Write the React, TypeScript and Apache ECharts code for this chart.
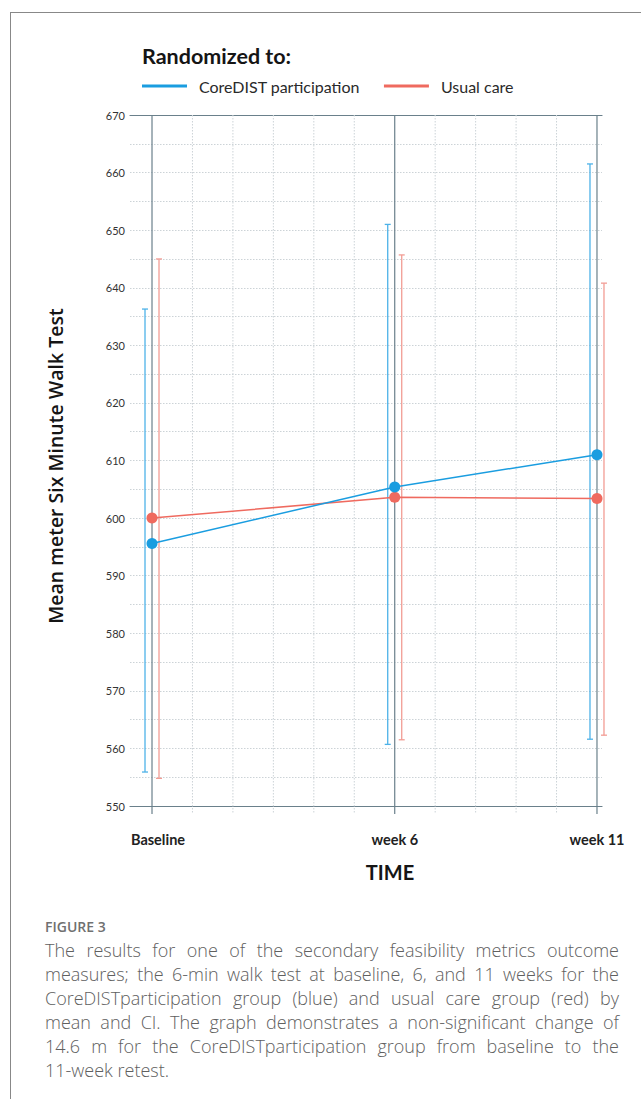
import React, { useEffect, useRef } from "react";
import * as echarts from "echarts";

// ---- data ----
const tickWeeks = [0, 6, 11];
const tickLabels = ["Baseline", "week 6", "week 11"];
const minorWeeks = [1, 2, 3, 4, 5, 7, 8, 9, 10];

const coreMean = [595.6, 605.4, 611.0];
const coreLow = [555.9, 560.7, 561.6];
const coreHigh = [636.3, 651.0, 661.5];

const usualMean = [600.0, 603.6, 603.4];
const usualLow = [554.8, 561.5, 562.3];
const usualHigh = [645.0, 645.7, 640.8];

const seriesNames = ["CoreDIST participation", "Usual care"];

const captionTitle = "FIGURE 3";
const captionLines = [
  "The results for one of the secondary feasibility metrics outcome",
  "measures; the 6-min walk test at baseline, 6, and 11 weeks for the",
  "CoreDISTparticipation group (blue) and usual care group (red) by",
  "mean and CI. The graph demonstrates a non-significant change of",
  "14.6 m for the CoreDISTparticipation group from baseline to the",
  "11-week retest.",
];

const BLUE = "#1a9de0";
const RED = "#ef6a5f";
const BLUE_BAR = "#4db2e8";
const RED_BAR = "#f29c94";
const AXIS = "#6a808b";
const GRID = "#ccd3d7";

function errorBarSeries(name: string, low: number[], high: number[], color: string, shift: number) {
  return {
    type: "custom",
    name: name + " CI",
    data: tickWeeks.map((w, i) => [w, low[i], high[i]]),
    encode: { x: 0, y: [1, 2] },
    z: 3,
    silent: true,
    renderItem: (params: any, api: any) => {
      const x = api.value(0);
      const lo = api.coord([x, api.value(1)]);
      const hi = api.coord([x, api.value(2)]);
      const px = lo[0] + shift;
      const cap = 3;
      const style = { stroke: color, lineWidth: 1.3 };
      return {
        type: "group",
        children: [
          { type: "line", shape: { x1: px, y1: hi[1], x2: px, y2: lo[1] }, style },
          { type: "line", shape: { x1: px - cap, y1: hi[1], x2: px + cap, y2: hi[1] }, style },
          { type: "line", shape: { x1: px - cap, y1: lo[1], x2: px + cap, y2: lo[1] }, style },
        ],
      };
    },
  };
}

function verticalGridSeries(weeks: number[], color: string, dashed: boolean, width: number) {
  return {
    type: "custom",
    data: weeks.map((w) => [w, 670]),
    encode: { x: 0, y: 1 },
    z: 1,
    silent: true,
    renderItem: (params: any, api: any) => {
      const x = api.value(0);
      const top = api.coord([x, 670]);
      const bot = api.coord([x, 550]);
      return {
        type: "line",
        shape: { x1: top[0], y1: top[1], x2: bot[0], y2: bot[1] + 8 },
        style: { stroke: color, lineWidth: width, lineDash: dashed ? [1.5, 1.5] : null },
      };
    },
  };
}

function buildCaption(): any[] {
  const els: any[] = [];
  const left = 45;
  const right = 619;
  const font = '300 18px "Open Sans"';
  const canvas = document.createElement("canvas");
  const ctx = canvas.getContext("2d")!;
  ctx.font = font;
  const y0 = 950;
  const lh = 24;
  const fill = "#606060";
  captionLines.forEach((line, li) => {
    const y = y0 + li * lh;
    const words = line.split(" ");
    const isLast = li === captionLines.length - 1;
    if (isLast) {
      els.push({
        type: "text",
        x: left,
        y,
        style: { text: line, font, fill, verticalAlign: "middle", align: "left" },
      });
      return;
    }
    const widths = words.map((w) => ctx.measureText(w).width);
    const total = widths.reduce((a, b) => a + b, 0);
    const gap = (right - left - total) / (words.length - 1);
    let x = left;
    words.forEach((w, wi) => {
      els.push({
        type: "text",
        x,
        y,
        style: { text: w, font, fill, verticalAlign: "middle", align: "left" },
      });
      x += widths[wi] + gap;
    });
  });
  return els;
}

export default function App() {
  const ref = useRef<HTMLDivElement>(null);
  useEffect(() => {
    document.body.style.margin = "0";
    const chart = echarts.init(ref.current!, null, { renderer: "svg" });
    const xMin = -0.544;
    const xMax = 11.124;
    const option: any = {
      animation: false,
      backgroundColor: "#ffffff",
      textStyle: { fontFamily: "Lato" },
      title: {
        text: "Randomized to:",
        left: 137,
        top: 40,
        textStyle: { fontFamily: "Lato", fontSize: 21.5, fontWeight: "bold", color: "#151515" },
      },
      legend: {
        left: 137,
        top: 73,
        data: seriesNames,
        icon: "rect",
        itemWidth: 45,
        itemHeight: 3,
        itemGap: 24,
        textStyle: { fontFamily: "Lato", fontSize: 16, color: "#2a2a2a", padding: [0, 0, 0, 7] },
      },
      grid: { left: 130, right: 39, top: 115, bottom: 293, containLabel: false },
      xAxis: [
        {
          type: "value",
          min: xMin,
          max: xMax,
          axisLine: { show: true, lineStyle: { color: AXIS, width: 1.2 } },
          axisTick: { show: false },
          splitLine: { show: false },
          axisLabel: {
            customValues: tickWeeks,
            formatter: (v: number) => {
              const i = tickWeeks.indexOf(Math.round(v));
              if (i < 0) return "";
              return i === 0 ? "{s|" + tickLabels[i] + "}" : tickLabels[i];
            },
            rich: {
              s: {
                padding: [0, 0, 0, 12],
                fontFamily: "Lato",
                fontSize: 14.5,
                fontWeight: "bold",
                color: "#222",
              },
            },
            margin: 26,
            fontFamily: "Lato",
            fontSize: 14.5,
            fontWeight: "bold",
            color: "#222",
          },
        },
        {
          type: "value",
          position: "top",
          min: xMin,
          max: xMax,
          axisLine: { show: true, onZero: false, lineStyle: { color: AXIS, width: 1.2 } },
          axisTick: { show: false },
          axisLabel: { show: false },
          splitLine: { show: false },
        },
      ],
      yAxis: {
        type: "value",
        min: 550,
        max: 670,
        interval: 5,
        axisLine: { show: false },
        axisTick: { show: false },
        axisLabel: {
          formatter: (v: number) => (v % 10 === 0 ? String(v) : ""),
          margin: 5,
          fontFamily: "Lato",
          fontSize: 11,
          color: "#333",
        },
        splitLine: { show: true, lineStyle: { color: GRID, type: [1.5, 1.5], width: 1 } },
      },
      series: [
        verticalGridSeries(minorWeeks, GRID, true, 1),
        verticalGridSeries(tickWeeks, AXIS, false, 1.2),
        errorBarSeries(seriesNames[0], coreLow, coreHigh, BLUE_BAR, -7),
        errorBarSeries(seriesNames[1], usualLow, usualHigh, RED_BAR, 7),
        {
          type: "line",
          name: seriesNames[0],
          data: tickWeeks.map((w, i) => [w, coreMean[i]]),
          symbol: "circle",
          symbolSize: 11,
          z: 5,
          itemStyle: { color: BLUE },
          lineStyle: { color: BLUE, width: 1.5 },
        },
        {
          type: "line",
          name: seriesNames[1],
          data: tickWeeks.map((w, i) => [w, usualMean[i]]),
          symbol: "circle",
          symbolSize: 11,
          z: 4,
          itemStyle: { color: RED },
          lineStyle: { color: RED, width: 1.5 },
        },
      ],
      graphic: [
        { type: "line", shape: { x1: 10.5, y1: 12, x2: 10.5, y2: 1099 }, style: { stroke: "#888", lineWidth: 1 } },
        { type: "line", shape: { x1: 10, y1: 12.5, x2: 641, y2: 12.5 }, style: { stroke: "#888", lineWidth: 1 } },
        {
          type: "text",
          x: 55,
          y: 466,
          rotation: Math.PI / 2,
          style: {
            text: "Mean meter Six Minute Walk Test",
            font: '600 19.5px "Open Sans"',
            fill: "#151515",
            align: "center",
            verticalAlign: "middle",
          },
        },
        {
          type: "text",
          x: 390,
          y: 872,
          style: { text: "TIME", font: 'bold 20px "Lato"', fill: "#151515", align: "center", verticalAlign: "middle" },
        },
        {
          type: "text",
          x: 45,
          y: 926,
          style: { text: captionTitle, font: '600 14px "Open Sans"', fill: "#707070", align: "left", verticalAlign: "middle" },
        },
        ...buildCaption(),
      ],
    };
    chart.setOption(option);
    return () => chart.dispose();
  }, []);
  return <div ref={ref} style={{ width: 641, height: 1099 }} />;
}
